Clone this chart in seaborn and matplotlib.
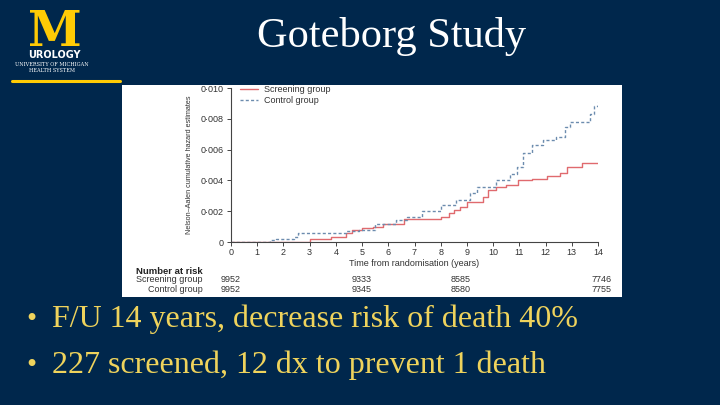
import matplotlib
matplotlib.use("Agg")
import matplotlib.pyplot as plt
import seaborn as sns
import pandas as pd
from matplotlib.patches import Rectangle
from matplotlib.lines import Line2D
from matplotlib.ticker import FuncFormatter
from matplotlib.transforms import blended_transform_factory

sns.set_theme(style="ticks")
plt.rcParams['font.family'] = ['Liberation Sans', 'DejaVu Sans']

# ---------------- data ----------------
title = "Goteborg Study"
bullets = ["F/U 14 years, decrease risk of death 40%",
           "227 screened, 12 dx to prevent 1 death"]

groups = ["Screening group", "Control group"]

screen_t = [0, 3.0, 3.8, 4.4, 4.6, 5.0, 5.4, 5.8, 6.6, 8.0, 8.3, 8.5, 8.75,
            9.0, 9.6, 9.8, 10.1, 10.5, 10.95, 11.5, 12.05, 12.55, 12.8, 13.4, 14.0]
screen_h = [0, 0.0002, 0.0003, 0.0006, 0.0008, 0.0009, 0.0010, 0.0012, 0.0015,
            0.0016, 0.0019, 0.0021, 0.0023, 0.0026, 0.0029, 0.0034, 0.0036,
            0.0037, 0.0040, 0.0041, 0.0043, 0.0045, 0.0049, 0.0051, 0.0051]

ctrl_t = [0, 1.5, 1.7, 2.4, 2.55, 4.4, 4.9, 5.5, 6.3, 6.7, 7.3, 8.0, 8.6, 9.1,
          9.4, 10.1, 10.65, 10.9, 11.15, 11.5, 11.9, 12.4, 12.75, 12.95, 13.4,
          13.7, 13.85, 14.0]
ctrl_h = [0, 0.0001, 0.0002, 0.0003, 0.0006, 0.0007, 0.0008, 0.0012, 0.0014,
          0.0016, 0.0020, 0.0024, 0.0027, 0.0032, 0.0036, 0.0040, 0.0044,
          0.0049, 0.0058, 0.0063, 0.0066, 0.0068, 0.0075, 0.0078, 0.0078,
          0.0083, 0.0088, 0.0091]

x_ticks = list(range(0, 15))
y_ticks = [0, 0.002, 0.004, 0.006, 0.008, 0.010]

risk_times = [0, 5, 8.75, 14.15]
risk_screen = ["9952", "9333", "8585", "7746"]
risk_control = ["9952", "9345", "8580", "7755"]

# ---------------- styling ----------------
NAVY = "#00274C"
MAIZE = "#FFCB05"
BULLET_YELLOW = "#EFD35C"
RED = "#E06A6E"
BLUE = "#6C8CAE"
AXC = "#444444"

W, H = 720, 405
def fx(px): return px / W
def fy(py): return 1 - py / H

fig = plt.figure(figsize=(7.2, 4.05), dpi=100, facecolor=NAVY)

# white chart panel
fig.patches.append(Rectangle((fx(122), fy(297)), fx(622) - fx(122), fy(85) - fy(297),
                             transform=fig.transFigure, facecolor="white",
                             edgecolor="none", zorder=-1))

ax = fig.add_axes([fx(231), fy(242), fx(598) - fx(231), fy(88) - fy(242)])
ax.set_facecolor("none")

df = pd.concat([
    pd.DataFrame({"t": screen_t, "h": screen_h, "group": groups[0]}),
    pd.DataFrame({"t": ctrl_t, "h": ctrl_h, "group": groups[1]}),
])

sns.lineplot(data=df, x="t", y="h", hue="group", style="group",
             hue_order=groups, style_order=groups,
             palette={groups[0]: RED, groups[1]: BLUE},
             dashes={groups[0]: "", groups[1]: (2.2, 1.6)},
             drawstyle="steps-post", estimator=None, linewidth=1.0,
             legend=False, ax=ax)

ax.set_xlim(0, 14)
ax.set_ylim(0, 0.010)
ax.set_xticks(x_ticks)
ax.set_yticks(y_ticks)
ax.yaxis.set_major_formatter(FuncFormatter(
    lambda v, _: "0" if abs(v) < 1e-12 else f"{v:.3f}".replace(".", "·")))
for s in ["top", "right"]:
    ax.spines[s].set_visible(False)
for s in ["left", "bottom"]:
    ax.spines[s].set_color(AXC)
    ax.spines[s].set_linewidth(0.8)
ax.tick_params(direction="out", length=3, width=0.7, colors=AXC,
               labelsize=6.5, labelcolor="#333333", pad=2)
ax.tick_params(axis="x", pad=1.5)
ax.set_xlabel("Time from randomisation (years)", fontsize=6.5, color="#333333", labelpad=1.5)
ax.set_ylabel("Nelson–Aalen cumulative hazard estimates", fontsize=5.2,
              color="#333333", labelpad=6)

handles = [ax.lines[0], ax.lines[1]]
ax.legend(handles, groups, loc="upper left", bbox_to_anchor=(0.015, 1.04),
          frameon=False, fontsize=6.5, handlelength=2.0, handletextpad=0.6,
          labelspacing=0.15, borderaxespad=0, labelcolor="#333333")

# number at risk table
tr = blended_transform_factory(ax.transData, fig.transFigure)
fig.text(fx(203), fy(271), "Number at risk", fontsize=6.8, fontweight="bold",
         color="#222222", ha="right", va="center")
fig.text(fx(203), fy(280), groups[0], fontsize=6.5, color="#333333", ha="right", va="center")
fig.text(fx(203), fy(289), groups[1], fontsize=6.5, color="#333333", ha="right", va="center")
for t, s, c in zip(risk_times, risk_screen, risk_control):
    ax.text(t, fy(280), s, transform=tr, fontsize=6.5, color="#333333",
            ha="center", va="center", clip_on=False)
    ax.text(t, fy(289), c, transform=tr, fontsize=6.5, color="#333333",
            ha="center", va="center", clip_on=False)

# logo
fig.text(fx(55), fy(46.5), "M", color=MAIZE, fontsize=35, fontweight="bold",
         family="DejaVu Serif", ha="center", va="baseline")
fig.text(fx(54), fy(55), "UROLOGY", color="white", fontsize=7.0, fontweight="bold",
         family="DejaVu Sans", ha="center", va="center")
fig.text(fx(52), fy(64.5), "UNIVERSITY OF MICHIGAN", color="white", fontsize=3.6,
         family="DejaVu Serif", ha="center", va="center")
fig.text(fx(52), fy(71), "HEALTH SYSTEM", color="white", fontsize=3.6,
         family="DejaVu Serif", ha="center", va="center")
fig.add_artist(Line2D([fx(12), fx(120)], [fy(80.5), fy(80.5)], color=MAIZE,
                      linewidth=2.2, transform=fig.transFigure))

# title
fig.text(fx(392), fy(47), title, family="Liberation Serif", fontsize=30.5,
         color="white", ha="center", va="baseline")

# bullets
for i, (b, base) in enumerate(zip(bullets, [327, 373])):
    fig.text(fx(31), fy(base - 7), "•", family="Liberation Serif", fontsize=21,
             color=BULLET_YELLOW, ha="center", va="center")
    fig.text(fx(52), fy(base), b, family="Liberation Serif", fontsize=23,
             color=BULLET_YELLOW, ha="left", va="baseline")

fig.savefig("out.png", dpi=100, facecolor=NAVY)
